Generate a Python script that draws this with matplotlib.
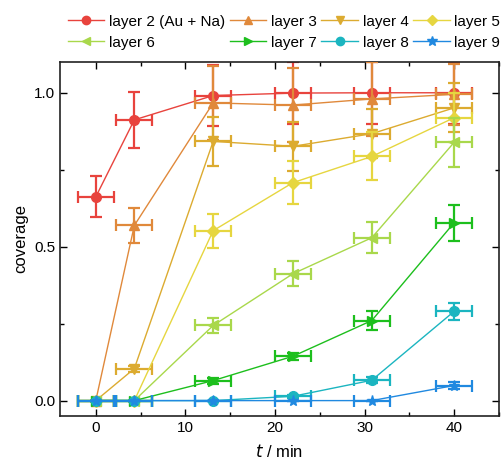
import matplotlib
matplotlib.use("Agg")
import matplotlib.pyplot as plt
from matplotlib.ticker import MultipleLocator

plt.rcParams["font.family"] = ["Liberation Sans", "DejaVu Sans"]

# time points (min)
t = [0, 4.3, 13.1, 22.0, 30.8, 40.0]
t_err = [2, 2, 2, 2, 2, 2]

labels = ["layer 2 (Au + Na)", "layer 3", "layer 4", "layer 5",
          "layer 6", "layer 7", "layer 8", "layer 9"]
colors = ["#e8433d", "#e0893b", "#dcab30", "#e6d640",
          "#a9d84b", "#1dbf1d", "#1bb5c0", "#2089e0"]
markers = ["o", "^", "v", "D", "<", ">", "o", "*"]
msizes = [7, 7, 7, 6, 7, 7, 7, 8]

cov = [
    [0.662, 0.912, 0.991, 0.999, 1.000, 1.000],
    [0.000, 0.569, 0.967, 0.960, 0.980, 0.995],
    [0.000, 0.104, 0.842, 0.826, 0.867, 0.951],
    [0.000, 0.000, 0.552, 0.708, 0.793, 0.919],
    [0.000, 0.000, 0.244, 0.412, 0.529, 0.839],
    [0.000, 0.000, 0.065, 0.144, 0.260, 0.578],
    [0.000, 0.000, 0.000, 0.014, 0.066, 0.290],
    [0.000, 0.000, 0.000, 0.000, 0.000, 0.049],
]
cov_err = [
    [0.067, 0.090, 0.10, 0.10, 0.10, 0.10],
    [0.000, 0.057, 0.12, 0.12, 0.12, 0.10],
    [0.000, 0.010, 0.08, 0.08, 0.08, 0.08],
    [0.000, 0.000, 0.055, 0.070, 0.078, 0.08],
    [0.000, 0.000, 0.025, 0.040, 0.050, 0.080],
    [0.000, 0.000, 0.010, 0.012, 0.030, 0.058],
    [0.000, 0.000, 0.000, 0.005, 0.010, 0.028],
    [0.000, 0.000, 0.000, 0.000, 0.000, 0.010],
]

fig = plt.figure(figsize=(5.04, 4.65), dpi=100)
ax = fig.add_axes([0.119, 0.1054, 0.871, 0.7613])

for i in range(len(labels)):
    ax.errorbar(t, cov[i], xerr=t_err, yerr=cov_err[i], color=colors[i],
                marker=markers[i], ms=msizes[i], lw=1.0, elinewidth=1.6,
                capsize=4, capthick=1.6, label=labels[i], zorder=2 + i)

ax.set_xlim(-4, 45)
ax.set_ylim(-0.05, 1.1)
ax.xaxis.set_major_locator(MultipleLocator(10))
ax.xaxis.set_minor_locator(MultipleLocator(5))
ax.yaxis.set_major_locator(MultipleLocator(0.5))
ax.yaxis.set_minor_locator(MultipleLocator(0.25))
ax.yaxis.set_major_formatter(plt.FormatStrFormatter("%.1f"))
ax.tick_params(which="both", direction="in", top=True, right=True,
               labelsize=11, width=1.0)
ax.tick_params(which="major", length=5)
ax.tick_params(which="minor", length=3)
for s in ax.spines.values():
    s.set_linewidth(1.2)
    s.set_color("#222222")

ax.set_xlabel("$t$ / min", fontsize=12, labelpad=6)
ax.set_ylabel("coverage", fontsize=12, labelpad=4)

# legend: row 1 layers 2-5, row 2 layers 6-9
order = [0, 4, 1, 5, 2, 6, 3, 7]
leg_h = []
for k in order:
    ln, = ax.plot([], [], color=colors[k], marker=markers[k], ms=msizes[k] - 1, lw=1.0)
    leg_h.append(ln)
fig.legend(leg_h, [labels[k] for k in order], ncol=4, loc="upper right",
           bbox_to_anchor=(1.02, 0.998), frameon=False, fontsize=11,
           handlelength=2.4, handletextpad=0.3, columnspacing=0.3,
           labelspacing=0.45)

fig.savefig("out.png", dpi=100)
